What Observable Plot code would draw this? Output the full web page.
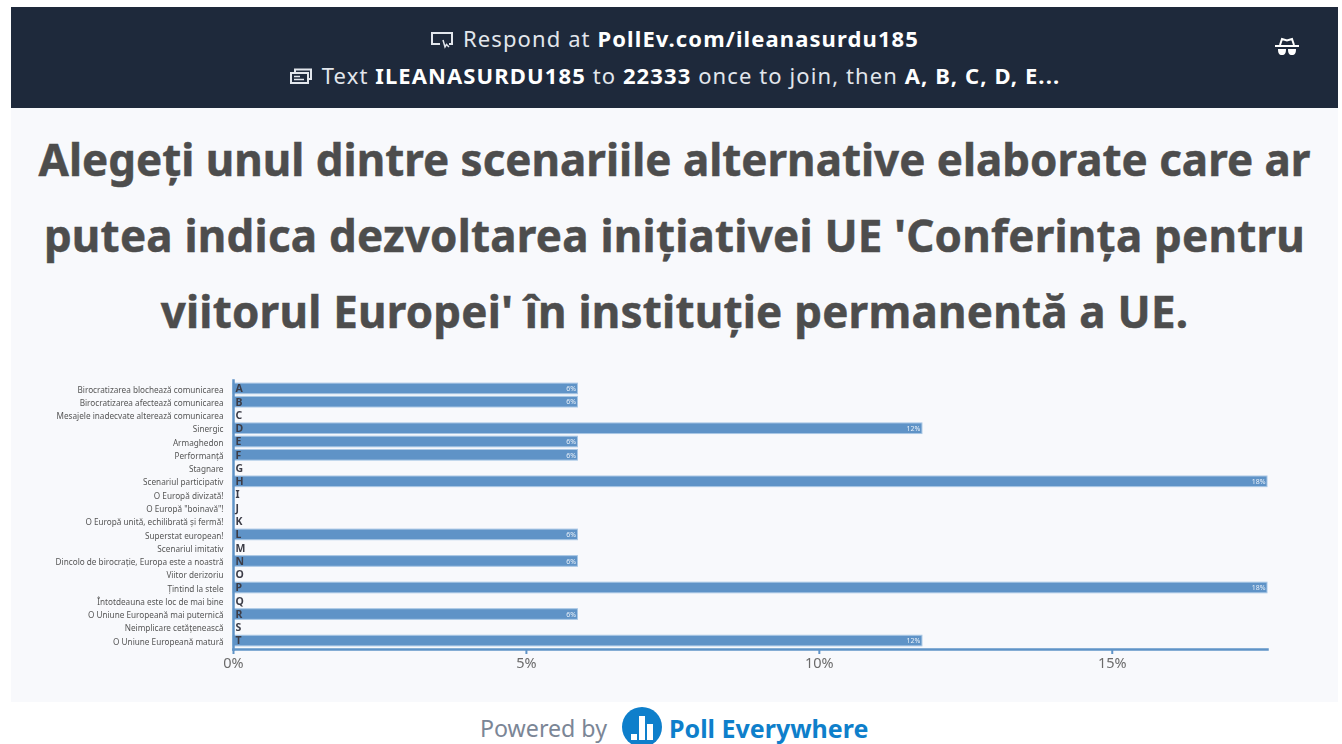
<!DOCTYPE html>
<html lang="ro">
<head>
<meta charset="utf-8">
<script src="https://cdn.jsdelivr.net/npm/d3@7"></script>
<script src="https://cdn.jsdelivr.net/npm/@observablehq/plot@0.6"></script>
<style>
html,body{margin:0;padding:0;background:#fff;width:1342px;height:744px;overflow:hidden;font-family:"Noto Sans",sans-serif}
#head{position:absolute;left:11px;top:7px;width:1327px;height:101px;background:#1e293b;color:#e2e6ec;font-size:22px;letter-spacing:1.1px}
#panel{position:absolute;left:11px;top:108px;width:1327px;height:594px;background:#f8f9fc}
.hl{position:absolute;left:0;width:100%;text-align:center;line-height:30px;white-space:nowrap}
.hl b{color:#fff;font-weight:700}
.hl svg{vertical-align:-2px;margin-right:9px}
#title{position:absolute;left:0;top:13px;width:100%;text-align:center;font-weight:700;color:#4d4d4d;font-size:43.9px;line-height:76px;white-space:nowrap;-webkit-text-stroke:.5px #4d4d4d}
#title .w{letter-spacing:.23px}
#chart{position:absolute;left:0;top:375px}
#chart svg{background:transparent;filter:blur(.35px)}
#foot{position:absolute;left:0;top:708px;width:1342px;height:36px}
#foot span{position:absolute;top:2px;white-space:nowrap}
</style>
</head>
<body>
<div id="head">
  <div class="hl" style="top:16px"><svg width="24" height="18" viewBox="0 0 24 18" fill="none" stroke="#e2e6ec" stroke-width="2"><path d="M10 13H2V2h20v11h-3"/><path d="M13 9l2 7 1.500-2.500L19 16" stroke-width="1.500"/></svg>Respond at <b>PollEv.com/ileanasurdu185</b></div>
  <div class="hl" style="top:53px"><svg width="24" height="18" viewBox="0 0 24 18" fill="none" stroke="#e2e6ec" stroke-width="2"><path d="M6 4V1.500h16V11h-3"/><rect x="2" y="5" width="17" height="10"/><path d="M5 8.500h6M5 11.500h10" stroke-width="1.500"/></svg>Text <b>ILEANASURDU185</b> to <b>22333</b> once to join, then <b>A, B, C, D, E...</b></div>
  <svg style="position:absolute;left:1263px;top:29px" width="26" height="22" viewBox="0 0 26 22"><path d="M1 10h24" stroke="#fff" stroke-width="2"/><path d="M6 9l2-6 5 1.500L18 3l2 6" fill="none" stroke="#fff" stroke-width="2"/><path d="M4 13h8c0 4-1 6-4 6s-4-2-4-6zM14 13h8c0 4-1 6-4 6s-4-2-4-6z" fill="#fff"/></svg>
</div>
<div id="panel">
  <div id="title">Alegeți unul dintre scenariile alternative elaborate care ar<br><span class="w">putea indica dezvoltarea inițiativei UE 'Conferința pentru</span><br><span class="w">viitorul Europei' în instituție permanentă a UE.</span></div>
</div>
<div id="chart"></div>
<div id="foot">
  <span style="left:480px;font-size:23.2px;color:#7b8696;line-height:36px">Powered by</span>
  <svg style="position:absolute;left:622px;top:-1px" width="40" height="40" viewBox="0 0 40 40"><circle cx="20" cy="20" r="20" fill="#0e7fcb"/><rect x="9" y="27" width="6" height="6" fill="#fff"/><rect x="17" y="9" width="6" height="24" fill="#fff"/><rect x="25" y="17" width="6" height="16" fill="#fff"/></svg>
  <span style="left:669px;font-size:25px;font-weight:700;color:#0e7fcb;line-height:36px">Poll Everywhere</span>
</div>
<script>
const categories = [
  "Birocratizarea blochează comunicarea","Birocratizarea afectează comunicarea",
  "Mesajele inadecvate alterează comunicarea","Sinergic","Armaghedon","Performanță",
  "Stagnare","Scenariul participativ","O Europă divizată!","O Europă \"boinavă\"!",
  "O Europă unită, echilibrată și fermă!","Superstat european!","Scenariul imitativ",
  "Dincolo de birocrație, Europa este a noastră","Viitor derizoriu","Țintind la stele",
  "Întotdeauna este loc de mai bine","O Uniune Europeană mai puternică",
  "Neimplicare cetățenească","O Uniune Europeană matură"
];
const letters = ["A","B","C","D","E","F","G","H","I","J","K","L","M","N","O","P","Q","R","S","T"];
const percents = [5.88,5.88,0,11.76,5.88,5.88,0,17.65,0,0,0,5.88,0,5.88,0,17.65,0,5.88,0,11.76];
const percentLabels = ["6%","6%","","12%","6%","6%","","18%","","","","6%","","6%","","18%","","6%","","12%"];
const xTicks = [0,5,10,15];

const rows = categories.map((name,i)=>({name,letter:letters[i],value:percents[i],label:percentLabels[i]}));
const nonzero = rows.filter(d=>d.value>0);

const chart = Plot.plot({
  width:1342, height:310,
  marginLeft:233, marginRight:75, marginTop:5, marginBottom:36,
  style:{background:"transparent",fontFamily:"'Noto Sans',sans-serif"},
  x:{domain:[0,17.65],label:null},
  y:{domain:categories,paddingInner:.2,paddingOuter:.235,round:false,label:null},
  marks:[
    Plot.barX(nonzero,{x:"value",y:"name",fill:"#5f93c7",stroke:"#a9c7e5",strokeWidth:1}),
    Plot.frame({anchor:"left",stroke:"#5f93c7",strokeWidth:2.5}),
    Plot.frame({anchor:"bottom",stroke:"#5f93c7",strokeWidth:2.5}),
    Plot.axisY({tickSize:0,tickPadding:10,fontSize:8.2,dy:1,color:"#555",label:null}),
    Plot.axisX({ticks:xTicks,tickFormat:d=>d+"%",tickSize:5,tickPadding:3,fontSize:14.500,color:"#6b6b6b",stroke:"#5f93c7",strokeWidth:2,label:null}),
    Plot.text(rows,{x:0,y:"name",text:"letter",dx:2,textAnchor:"start",fontSize:10.5,fontWeight:700,fill:"#3c3c46"}),
    Plot.text(nonzero,{x:"value",y:"name",text:"label",dx:-2,textAnchor:"end",fontSize:7,fill:"#e8f0f8"})
  ]
});
document.getElementById("chart").append(chart);
</script>
</body>
</html>
